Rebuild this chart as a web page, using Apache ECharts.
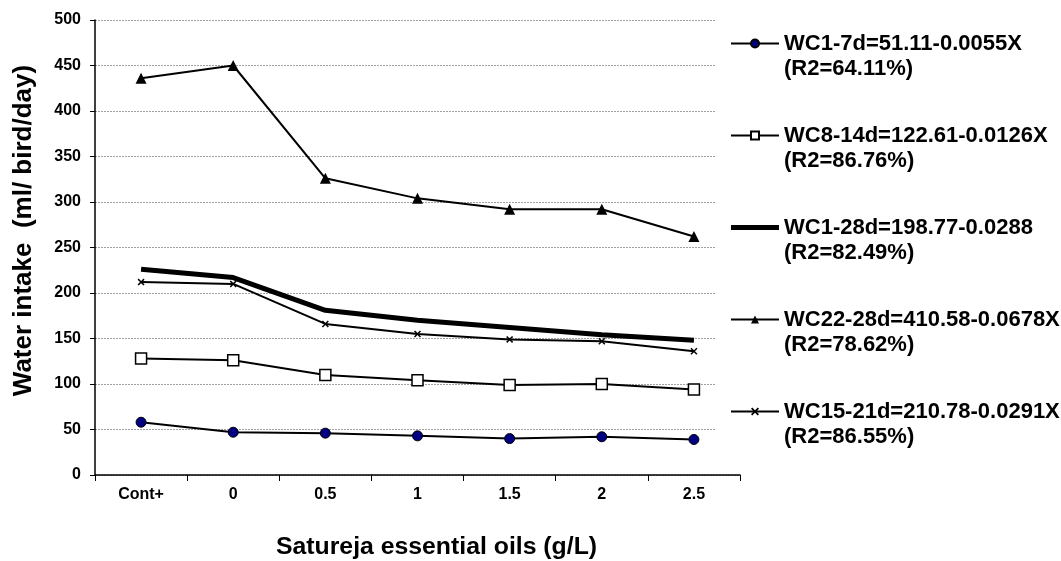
<!DOCTYPE html>
<html>
<head>
<meta charset="utf-8">
<script src="https://cdn.jsdelivr.net/npm/echarts@6/dist/echarts.min.js"></script>
<style>html,body{margin:0;padding:0;background:#fff;}#c{width:1061px;height:561px;}</style>
</head>
<body>
<div id="c"></div>
<script>
const categories = ['Cont+', '0', '0.5', '1', '1.5', '2', '2.5'];
const seriesNames = ['WC1-7d=51.11-0.0055X', 'WC8-14d=122.61-0.0126X', 'WC1-28d=198.77-0.0288', 'WC22-28d=410.58-0.0678X', 'WC15-21d=210.78-0.0291X'];
const r2Labels = ['(R2=64.11%)', '(R2=86.76%)', '(R2=82.49%)', '(R2=78.62%)', '(R2=86.55%)'];
const wc1_7d = [58, 47, 46, 43, 40, 42, 39];
const wc8_14d = [128, 126, 110, 104, 99, 100, 94];
const wc1_28d = [226, 217, 181, 170, 162, 154, 148];
const wc22_28d = [436, 450, 326, 304, 292, 292, 262];
const wc15_21d = [212, 210, 166, 155, 149, 147, 136];
const yTicks = { min: 0, max: 500, interval: 50 };

const FONT = '"Liberation Sans", Arial, sans-serif';
const xPath = 'path://M0,1.5 L1.5,0 L5,3.5 L8.5,0 L10,1.5 L6.5,5 L10,8.5 L8.5,10 L5,6.5 L1.5,10 L0,8.5 L3.5,5 Z';
const thickBarIcon = 'path://M0,0 h0.01 v0.01 h-0.01 Z M0,2.6 H48 V7.4 H0 Z M0,9.99 h0.01 v0.01 h-0.01 Z';

const chart = echarts.init(document.getElementById('c'), null, { renderer: 'canvas' });
const legendData = seriesNames.map(function (n, i) {
  return i === 2 ? { name: n, icon: thickBarIcon, itemStyle: { color: '#000' } } : { name: n };
});
const option = {
  backgroundColor: '#fff',
  animation: false,
  grid: { left: 95, right: 321, top: 20, bottom: 86, containLabel: false, outerBoundsMode: 'none' },
  legend: {
    orient: 'vertical',
    left: 715,
    top: 6,
    padding: [0, 0, 20, 15],
    backgroundColor: '#fff',
    itemWidth: 48,
    itemHeight: 10,
    itemGap: 17,
    selectedMode: false,
    data: legendData,
    formatter: function (name) {
      const i = seriesNames.indexOf(name);
      return '\n' + name + '\n' + r2Labels[i];
    },
    textStyle: { fontFamily: FONT, fontWeight: 'bold', fontSize: 22, lineHeight: 25, color: '#000' }
  },
  xAxis: {
    type: 'category',
    data: categories,
    boundaryGap: true,
    name: 'Satureja essential oils (g/L)',
    nameLocation: 'middle',
    nameGap: 60,
    nameTextStyle: { fontFamily: FONT, fontWeight: 'bold', fontSize: 24.8, color: '#000', padding: [0, 0, 0, 38] },
    axisLine: { lineStyle: { color: '#000', width: 1.5 } },
    axisTick: { show: true, inside: false, length: 6, alignWithLabel: false, lineStyle: { color: '#000', width: 1 } },
    axisLabel: { fontFamily: FONT, fontWeight: 'bold', fontSize: 16, color: '#000', margin: 12 },
    splitLine: { show: false }
  },
  yAxis: {
    type: 'value',
    min: yTicks.min,
    max: yTicks.max,
    interval: yTicks.interval,
    name: 'Water intake  (ml/ bird/day)',
    nameLocation: 'middle',
    nameRotate: 90,
    nameGap: 58,
    nameTextStyle: { fontFamily: FONT, fontWeight: 'bold', fontSize: 26, color: '#000', padding: [0, 0, 0, 34] },
    axisLine: { show: true, lineStyle: { color: '#000', width: 1.5 } },
    axisTick: { show: true, inside: false, length: 5, lineStyle: { color: '#000', width: 1 } },
    axisLabel: { fontFamily: FONT, fontWeight: 'bold', fontSize: 16, color: '#000', margin: 14 },
    splitLine: { show: true, lineStyle: { color: '#a0a0a0', width: 1, type: [2, 1] } }
  },
  series: [
    {
      name: seriesNames[0], type: 'line', data: wc1_7d,
      symbol: 'circle', symbolSize: 10,
      lineStyle: { color: '#000', width: 2 },
      itemStyle: { color: '#000080', borderColor: '#000', borderWidth: 1 },
      z: 5
    },
    {
      name: seriesNames[1], type: 'line', data: wc8_14d,
      symbol: 'rect', symbolSize: 11,
      lineStyle: { color: '#000', width: 2 },
      itemStyle: { color: '#fff', borderColor: '#000', borderWidth: 1.5 },
      z: 5
    },
    {
      name: seriesNames[2], type: 'line', data: wc1_28d,
      symbol: 'none',
      lineStyle: { color: '#000', width: 5 },
      itemStyle: { color: '#000' },
      z: 4
    },
    {
      name: seriesNames[3], type: 'line', data: wc22_28d,
      symbol: 'triangle', symbolSize: 11,
      lineStyle: { color: '#000', width: 2 },
      itemStyle: { color: '#000' },
      z: 5
    },
    {
      name: seriesNames[4], type: 'line', data: wc15_21d,
      symbol: xPath, symbolSize: 7,
      lineStyle: { color: '#000', width: 2 },
      itemStyle: { color: '#000' },
      z: 5
    }
  ]
};
chart.setOption(option);
</script>
</body>
</html>
